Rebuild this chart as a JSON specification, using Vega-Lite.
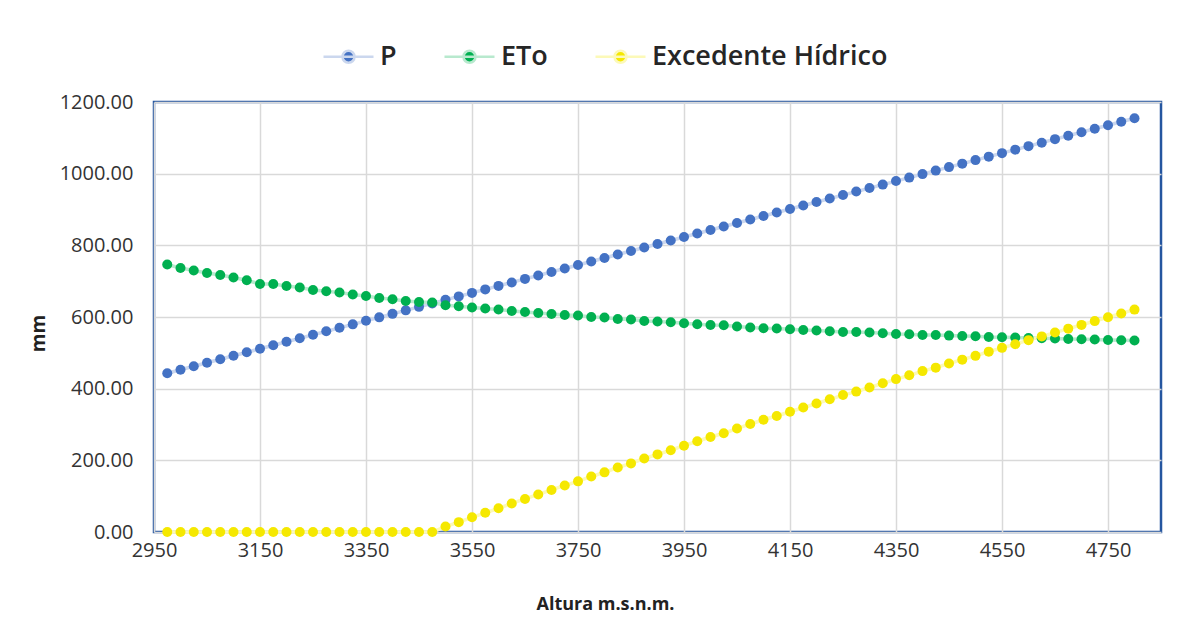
{
  "$schema": "https://vega.github.io/schema/vega-lite/v6.json",
  "width": 1007,
  "height": 430,
  "autosize": "none",
  "padding": {"left": 154, "top": 102, "right": 33, "bottom": 95},
  "background": "white",
  "config": {
    "view": {"stroke": "#2556A0", "strokeWidth": 2.5},
    "font": "Open Sans"
  },
  "data": {"values": [
    {"Altura": 2975, "P": 443.0, "ETo": 746.3, "EH": 0},
    {"Altura": 3000, "P": 452.8, "ETo": 736.8, "EH": 0},
    {"Altura": 3025, "P": 462.5, "ETo": 729.6, "EH": 0},
    {"Altura": 3050, "P": 472.3, "ETo": 722.9, "EH": 0},
    {"Altura": 3075, "P": 482.0, "ETo": 717.3, "EH": 0},
    {"Altura": 3100, "P": 491.8, "ETo": 710.0, "EH": 0},
    {"Altura": 3125, "P": 501.5, "ETo": 702.5, "EH": 0},
    {"Altura": 3150, "P": 511.3, "ETo": 692.2, "EH": 0},
    {"Altura": 3175, "P": 521.0, "ETo": 692.2, "EH": 0},
    {"Altura": 3200, "P": 530.8, "ETo": 686.6, "EH": 0},
    {"Altura": 3225, "P": 540.5, "ETo": 682.1, "EH": 0},
    {"Altura": 3250, "P": 550.3, "ETo": 675.4, "EH": 0},
    {"Altura": 3275, "P": 560.0, "ETo": 671.8, "EH": 0},
    {"Altura": 3300, "P": 569.8, "ETo": 668.2, "EH": 0},
    {"Altura": 3325, "P": 579.5, "ETo": 662.6, "EH": 0},
    {"Altura": 3350, "P": 589.3, "ETo": 658.7, "EH": 0},
    {"Altura": 3375, "P": 599.0, "ETo": 653.1, "EH": 0},
    {"Altura": 3400, "P": 608.8, "ETo": 649.5, "EH": 0},
    {"Altura": 3425, "P": 618.5, "ETo": 644.7, "EH": 0},
    {"Altura": 3450, "P": 628.3, "ETo": 642.0, "EH": 0},
    {"Altura": 3475, "P": 638.0, "ETo": 640.3, "EH": 0},
    {"Altura": 3500, "P": 647.8, "ETo": 632.7, "EH": 15.1},
    {"Altura": 3525, "P": 657.5, "ETo": 630.0, "EH": 27.5},
    {"Altura": 3550, "P": 667.3, "ETo": 626.3, "EH": 41.0},
    {"Altura": 3575, "P": 677.0, "ETo": 623.5, "EH": 53.5},
    {"Altura": 3600, "P": 686.8, "ETo": 620.7, "EH": 66.1},
    {"Altura": 3625, "P": 696.5, "ETo": 616.8, "EH": 79.7},
    {"Altura": 3650, "P": 706.3, "ETo": 614.0, "EH": 92.3},
    {"Altura": 3675, "P": 716.0, "ETo": 611.2, "EH": 104.8},
    {"Altura": 3700, "P": 725.8, "ETo": 608.4, "EH": 117.4},
    {"Altura": 3725, "P": 735.5, "ETo": 605.6, "EH": 129.9},
    {"Altura": 3750, "P": 745.3, "ETo": 604.0, "EH": 141.3},
    {"Altura": 3775, "P": 755.0, "ETo": 600.0, "EH": 155.0},
    {"Altura": 3800, "P": 764.8, "ETo": 598.4, "EH": 166.4},
    {"Altura": 3825, "P": 774.5, "ETo": 594.5, "EH": 180.0},
    {"Altura": 3850, "P": 784.3, "ETo": 592.8, "EH": 191.5},
    {"Altura": 3875, "P": 794.0, "ETo": 588.9, "EH": 205.1},
    {"Altura": 3900, "P": 803.8, "ETo": 587.2, "EH": 216.6},
    {"Altura": 3925, "P": 813.5, "ETo": 585.3, "EH": 228.2},
    {"Altura": 3950, "P": 823.3, "ETo": 582.5, "EH": 240.8},
    {"Altura": 3975, "P": 833.0, "ETo": 579.7, "EH": 253.3},
    {"Altura": 4000, "P": 842.8, "ETo": 577.7, "EH": 265.1},
    {"Altura": 4025, "P": 852.5, "ETo": 576.9, "EH": 275.6},
    {"Altura": 4050, "P": 862.3, "ETo": 573.6, "EH": 288.7},
    {"Altura": 4075, "P": 872.0, "ETo": 570.5, "EH": 301.5},
    {"Altura": 4100, "P": 881.8, "ETo": 568.5, "EH": 313.3},
    {"Altura": 4125, "P": 891.5, "ETo": 567.7, "EH": 323.8},
    {"Altura": 4150, "P": 901.3, "ETo": 565.7, "EH": 335.6},
    {"Altura": 4175, "P": 911.0, "ETo": 563.8, "EH": 347.2},
    {"Altura": 4200, "P": 920.8, "ETo": 562.1, "EH": 358.7},
    {"Altura": 4225, "P": 930.5, "ETo": 560.2, "EH": 370.3},
    {"Altura": 4250, "P": 940.3, "ETo": 558.2, "EH": 382.1},
    {"Altura": 4275, "P": 950.0, "ETo": 558.2, "EH": 391.8},
    {"Altura": 4300, "P": 959.8, "ETo": 556.5, "EH": 403.3},
    {"Altura": 4325, "P": 969.5, "ETo": 554.6, "EH": 414.9},
    {"Altura": 4350, "P": 979.3, "ETo": 552.6, "EH": 426.7},
    {"Altura": 4375, "P": 989.0, "ETo": 551.8, "EH": 437.2},
    {"Altura": 4400, "P": 998.8, "ETo": 549.8, "EH": 449.0},
    {"Altura": 4425, "P": 1008.5, "ETo": 549.8, "EH": 458.7},
    {"Altura": 4450, "P": 1018.3, "ETo": 548.1, "EH": 470.2},
    {"Altura": 4475, "P": 1028.0, "ETo": 547.0, "EH": 481.0},
    {"Altura": 4500, "P": 1037.8, "ETo": 546.2, "EH": 491.6},
    {"Altura": 4525, "P": 1047.5, "ETo": 544.2, "EH": 503.3},
    {"Altura": 4550, "P": 1057.3, "ETo": 543.4, "EH": 513.9},
    {"Altura": 4575, "P": 1067.0, "ETo": 542.8, "EH": 524.2},
    {"Altura": 4600, "P": 1076.8, "ETo": 541.4, "EH": 535.4},
    {"Altura": 4625, "P": 1086.5, "ETo": 540.6, "EH": 545.9},
    {"Altura": 4650, "P": 1096.3, "ETo": 539.8, "EH": 556.5},
    {"Altura": 4675, "P": 1106.0, "ETo": 538.5, "EH": 567.5},
    {"Altura": 4700, "P": 1115.8, "ETo": 537.8, "EH": 578.0},
    {"Altura": 4725, "P": 1125.5, "ETo": 537.0, "EH": 588.5},
    {"Altura": 4750, "P": 1135.3, "ETo": 535.9, "EH": 599.4},
    {"Altura": 4775, "P": 1145.0, "ETo": 535.0, "EH": 610.0},
    {"Altura": 4800, "P": 1154.8, "ETo": 534.2, "EH": 620.6}
  ]},
  "encoding": {
    "x": {
      "field": "Altura", "type": "quantitative",
      "scale": {"domain": [2950, 4850], "nice": false, "zero": false},
      "axis": {
        "title": "Altura m.s.n.m.",
        "values": [2950, 3150, 3350, 3550, 3750, 3950, 4150, 4350, 4550, 4750],
        "format": "d",
        "grid": true, "gridColor": "#D9D9D9", "gridWidth": 1.5,
        "domain": false, "ticks": false, "labelFlush": false, "labelOverlap": false,
        "labelFont": "Open Sans", "labelFontSize": 20, "labelColor": "#333333", "labelPadding": 8,
        "titleFont": "Open Sans", "titleFontSize": 18, "titleFontWeight": "bold", "titleColor": "#222222",
        "titleX": 451, "titleY": 72, "titleBaseline": "middle", "titleAlign": "center"
      }
    }
  },
  "layer": [
    {
      "mark": {"type": "line", "strokeWidth": 3.5},
      "encoding": {
        "y": {"field": "P", "type": "quantitative",
          "scale": {"domain": [0, 1200], "nice": false},
          "axis": {
            "title": "mm",
            "values": [0, 200, 400, 600, 800, 1000, 1200],
            "format": ".2f",
            "grid": true, "gridColor": "#D9D9D9", "gridWidth": 1.5,
            "domain": false, "ticks": false,
            "labelFont": "Open Sans", "labelFontSize": 20, "labelColor": "#333333", "labelPadding": 21,
            "titleFont": "Open Sans", "titleFontSize": 19, "titleFontWeight": "bold", "titleColor": "#222222",
            "titleX": -116, "titleY": 231, "titleBaseline": "middle", "titleAngle": -90
          }
        },
        "stroke": {"datum": "P", "type": "nominal",
          "scale": {"domain": ["P", "ETo", "Excedente Hídrico"], "range": ["#CBD7EE", "#B8E9CE", "#FCF9B8"]},
          "legend": {
            "orient": "none", "legendX": 168, "legendY": -72,
            "direction": "horizontal", "title": null, "padding": 0,
            "symbolType": "M-1,0L1,0M-0.24,0A0.24,0.24,0,1,1,0.24,0A0.24,0.24,0,1,1,-0.24,0Z",
            "symbolSize": 2500, "symbolStrokeWidth": 2.5, "symbolOpacity": 1,
            "labelFont": "Open Sans", "labelFontSize": 27, "labelFontWeight": 600, "labelColor": "#262626",
            "labelOffset": 5, "columnPadding": 42, "labelLimit": 0
          }
        }
      }
    },
    {
      "mark": {"type": "line", "strokeWidth": 3.5},
      "encoding": {
        "y": {"field": "ETo", "type": "quantitative"},
        "stroke": {"datum": "ETo", "type": "nominal"}
      }
    },
    {
      "mark": {"type": "line", "strokeWidth": 3.5},
      "encoding": {
        "y": {"field": "EH", "type": "quantitative"},
        "stroke": {"datum": "Excedente Hídrico", "type": "nominal"}
      }
    },
    {
      "mark": {"type": "point", "filled": true, "size": 100, "opacity": 1},
      "encoding": {
        "y": {"field": "P", "type": "quantitative"},
        "fill": {"datum": "P", "type": "nominal",
          "scale": {"domain": ["P", "ETo", "Excedente Hídrico"], "range": ["#4472C4", "#00B050", "#F5E800"]},
          "legend": {
            "orient": "none", "legendX": 168, "legendY": -72,
            "direction": "horizontal", "title": null, "padding": 0,
            "symbolType": "M-1,0L1,0M-0.24,0A0.24,0.24,0,1,1,0.24,0A0.24,0.24,0,1,1,-0.24,0Z",
            "symbolSize": 2500, "symbolStrokeWidth": 2.5, "symbolOpacity": 1,
            "labelFont": "Open Sans", "labelFontSize": 27, "labelFontWeight": 600, "labelColor": "#262626",
            "labelOffset": 5, "columnPadding": 42, "labelLimit": 0
          }
        }
      }
    },
    {
      "mark": {"type": "point", "filled": true, "size": 100, "opacity": 1},
      "encoding": {
        "y": {"field": "ETo", "type": "quantitative"},
        "fill": {"datum": "ETo", "type": "nominal"}
      }
    },
    {
      "mark": {"type": "point", "filled": true, "size": 100, "opacity": 1},
      "encoding": {
        "y": {"field": "EH", "type": "quantitative"},
        "fill": {"datum": "Excedente Hídrico", "type": "nominal"}
      }
    }
  ]
}
